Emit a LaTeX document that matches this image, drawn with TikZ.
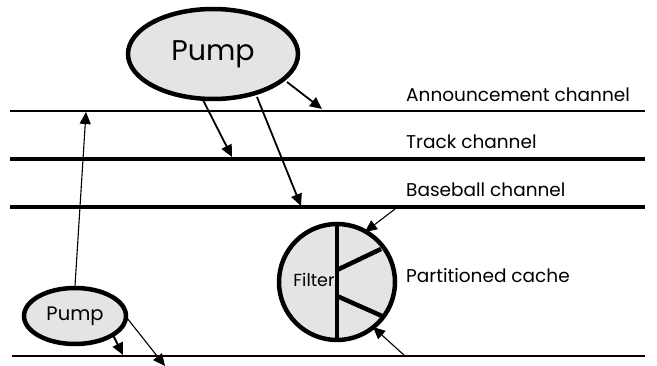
\documentclass[tikz,border=0pt]{standalone}
\usepackage{fontspec}
\setmainfont{Poppins}
\usetikzlibrary{arrows.meta,shapes.geometric}
\definecolor{fillgray}{HTML}{E4E4E4}
\tikzset{
  thinchan/.style={line width=2pt},
  thickchan/.style={line width=4.5pt},
  arr/.style={line width=1.8pt,-{Triangle[length=12pt,width=11pt]}},
  thinarr/.style={line width=1.1pt,-{Triangle[length=12pt,width=11pt]}},
  pumpshape/.style={ellipse,draw,line width=4.5pt,fill=fillgray,inner sep=0pt},
  lbl/.style={anchor=west,inner sep=0pt,font=\fontsize{18.5}{22}\selectfont}
}
\begin{document}
\begin{tikzpicture}[x=1pt,y=-1pt]
\useasboundingbox (0,0) rectangle (657,366);
% channels
\coordinate (a0) at (10,111); \coordinate (a1) at (645,111);
\coordinate (t0) at (10,159); \coordinate (t1) at (645,159);
\coordinate (b0) at (10,207); \coordinate (b1) at (645,207);
\coordinate (c0) at (12,356); \coordinate (c1) at (645,356);
\draw[thinchan] (a0) -- (a1);
\draw[thickchan] (t0) -- (t1);
\draw[thickchan] (b0) -- (b1);
\draw[thinchan] (c0) -- (c1);
\node[lbl] (la) at (406,95) {Announcement channel};
\node[lbl] (lt) at (406,142) {Track channel};
\node[lbl] (lb) at (406,190) {Baseball channel};
\node[lbl] (lp) at (406,276) {Partitioned cache};
% big pump
\node[pumpshape,minimum width=170pt,minimum height=90pt,font=\fontsize{28.5}{32}\selectfont] (bp) at (213,54) {Pump};
\coordinate (e1) at (322,109);
\coordinate (e2) at (232,157);
\coordinate (e3) at (301,206);
\draw[arr] (287,82) -- (e1);
\draw[arr] (203,100) -- (e2);
\draw[arr] (257,97) -- (e3);
% small pump
\node[pumpshape,minimum width=102pt,minimum height=56pt,font=\fontsize{19.5}{22}\selectfont] (sp) at (75,316) {Pump};
\coordinate (s1) at (86,112);
\coordinate (s2) at (123,355);
\coordinate (s3) at (165,366);
\draw[thinarr] (sp.north) -- (s1);
\draw[arr] (113,335) -- (s2);
\draw[thinarr] (127,318) -- (s3);
% filter circle
\node[circle,draw,line width=4.5pt,fill=fillgray,minimum size=116pt,inner sep=0pt] (fc) at (337,282) {};
\draw[line width=4.5pt] (fc.north) -- (fc.south);
\draw[line width=4.5pt] (337,270) -- (381,249);
\draw[line width=4.5pt] (337,296) -- (382,316);
\node[font=\fontsize{17.5}{20}\selectfont,inner sep=0pt] (ft) at (314,280) {Filter};
\coordinate (f0) at (395,209);
\coordinate (f1) at (405,356);
\draw[thinarr] (f0) -- (365,232);
\draw[thinarr] (f1) -- (373,327);
\end{tikzpicture}
\end{document}
